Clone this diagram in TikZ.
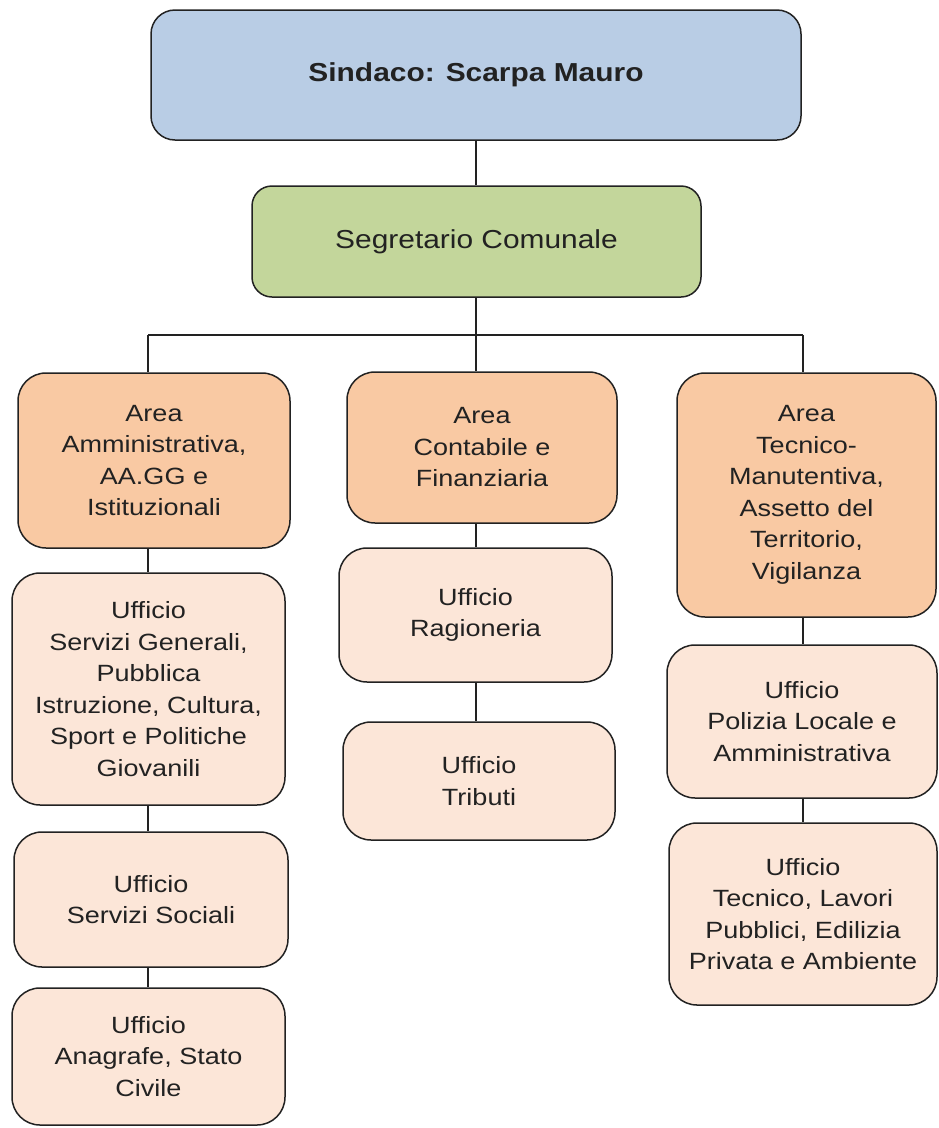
\documentclass[tikz,border=0pt]{standalone}
\usepackage{fontspec}
\setmainfont{Liberation Sans}[FakeStretch=1.15]
\definecolor{cblue}{HTML}{B9CDE5}
\definecolor{cgreen}{HTML}{C3D69B}
\definecolor{corange}{HTML}{F9C9A3}
\definecolor{clight}{HTML}{FCE6D8}
\definecolor{cline}{HTML}{222222}
\tikzset{
  box/.style={draw=cline, line width=1.5pt, rounded corners=28pt, align=center, inner sep=0pt,
    text=cline, font=\fontsize{23.5}{31.5}\selectfont},
  topbox/.style={box, fill=cblue, rounded corners=24pt, font=\fontsize{26}{32}\selectfont\bfseries},
  secbox/.style={box, fill=cgreen, rounded corners=20pt, font=\fontsize{26}{32}\selectfont},
  areabox/.style={box, fill=corange},
  offbox/.style={box, fill=clight},
  conn/.style={draw=cline, line width=1.5pt},
  dim/.style args={#1x#2}{minimum width=#1pt, minimum height=#2pt}
}
\begin{document}
\begin{tikzpicture}[x=1pt,y=-1pt]
\useasboundingbox (0,0) rectangle (938,1128);
\node[topbox, dim=650x130] (sindaco) at (476,75) {Sindaco: Scarpa Mauro};
\node[secbox, dim=449x111] (segr) at (476.5,241.5) {Segretario Comunale};
\node[areabox, dim=272x175] (areaA) at (154,460.5) {Area\\Amministrativa,\\AA.GG e\\Istituzionali};
\node[areabox, dim=270x151] (areaC) at (482,447.5) {Area\\Contabile e\\Finanziaria};
\node[areabox, dim=259x244] (areaT) at (806.5,495) {Area\\Tecnico-\\Manutentiva,\\Assetto del\\Territorio,\\Vigilanza};
\node[offbox, dim=273x232] (uSG) at (148.5,689) {Ufficio\\Servizi Generali,\\Pubblica\\Istruzione, Cultura,\\Sport e Politiche\\Giovanili};
\node[offbox, dim=274x135] (uSS) at (151,899.5) {Ufficio\\Servizi Sociali};
\node[offbox, dim=273x137] (uAn) at (148.5,1056.5) {Ufficio\\Anagrafe, Stato\\Civile};
\node[offbox, dim=273x134] (uRag) at (475.5,615) {Ufficio\\Ragioneria};
\node[offbox, dim=272x118] (uTri) at (479,781) {Ufficio\\Tributi};
\node[offbox, dim=270x153] (uPol) at (802,721.5) {Ufficio\\Polizia Locale e\\Amministrativa};
\node[offbox, dim=268x182] (uTec) at (803,914) {Ufficio\\Tecnico, Lavori\\Pubblici, Edilizia\\Privata e Ambiente};
\coordinate (c1) at (148,335);
\coordinate (c2) at (476,335);
\coordinate (c3) at (803,335);
\draw[conn] (sindaco.south -| c2) -- (segr.north -| c2);
\draw[conn] (segr.south -| c2) -- (c2);
\draw[conn] (c1) -- (c3);
\draw[conn] (c1) -- (areaA.north -| c1);
\draw[conn] (c2) -- (areaC.north -| c2);
\draw[conn] (c3) -- (areaT.north -| c3);
\draw[conn] (areaA.south -| c1) -- (uSG.north -| c1);
\draw[conn] (uSG.south -| c1) -- (uSS.north -| c1);
\draw[conn] (uSS.south -| c1) -- (uAn.north -| c1);
\draw[conn] (areaC.south -| c2) -- (uRag.north -| c2);
\draw[conn] (uRag.south -| c2) -- (uTri.north -| c2);
\draw[conn] (areaT.south -| c3) -- (uPol.north -| c3);
\draw[conn] (uPol.south -| c3) -- (uTec.north -| c3);
\end{tikzpicture}
\end{document}
